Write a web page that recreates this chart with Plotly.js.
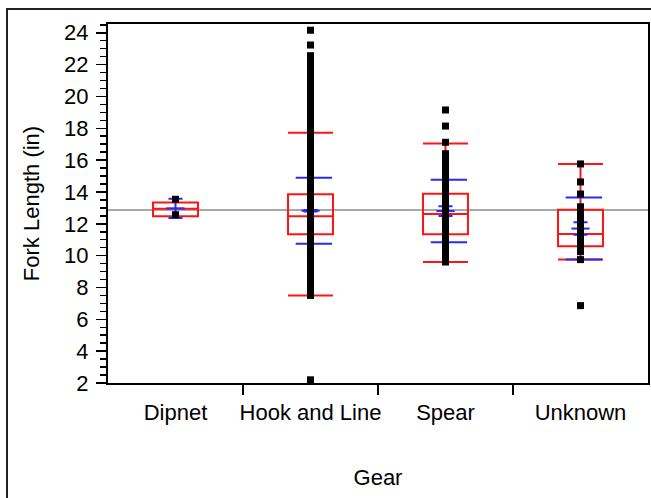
<!DOCTYPE html>
<html><head><meta charset="utf-8">
<script src="https://cdn.plot.ly/plotly-3.0.1.min.js"></script>
<style>
html,body{margin:0;padding:0;background:#fff;}
#wrap{position:relative;width:651px;height:498px;overflow:hidden;}
#chart{width:651px;height:498px;}
#frame{position:absolute;left:6px;top:8px;width:700px;height:600px;border:2px solid #222;pointer-events:none;}
</style></head><body>
<div id="wrap"><div id="chart"></div><div id="frame"></div></div>
<script>
// ---- data ----
const categories = ['Dipnet', 'Hook and Line', 'Spear', 'Unknown'];
const q1Values = [12.47, 11.34, 11.34, 10.59];
const medianValues = [12.95, 12.47, 12.62, 11.36];
const q3Values = [13.33, 13.85, 13.89, 12.89];
const lowerWhisker = [12.47, 7.5, 9.6, 9.75];
const upperWhisker = [13.33, 17.72, 17.05, 15.76];
const meanValues = [12.97, 12.82, 12.80, 11.70];
const stdErrValues = [0.60, 0.05, 0.31, 0.39];
const stdDevValues = [null, 2.08, 1.96, 1.95];
const grandMean = 12.87;

const dipnetLengths = [13.54, 12.57];
const hookLineLengths = [24.16, 23.23, 22.56, 22.3, 22.1, 21.8, 21.6, 21.3, 21.1, 20.8, 20.6, 20.3, 20.1,
  19.8, 19.6, 19.3, 19.1, 18.8, 18.6, 18.3, 18.1, 17.8, 17.6, 17.3, 17.1, 16.8, 16.6, 16.3, 16.1,
  15.8, 15.6, 15.3, 15.1, 14.8, 14.6, 14.3, 14.1, 13.8, 13.6, 13.3, 13.1, 12.8, 12.6, 12.3, 12.1,
  11.8, 11.6, 11.3, 11.1, 10.8, 10.6, 10.3, 10.1, 9.8, 9.6, 9.3, 9.1, 8.8, 8.6, 8.3, 8.1, 7.8, 7.5, 2.2];
const spearLengths = [19.15, 18.14, 17.12, 16.4, 16.2, 15.85, 15.65, 15.25, 15.0, 14.7, 14.4, 14.1,
  13.8, 13.5, 13.2, 12.9, 12.6, 12.3, 12.0, 11.7, 11.4, 11.1, 10.8, 10.5, 10.2, 9.9, 9.6];
const unknownLengths = [15.76, 14.63, 13.87, 13.07, 12.8, 12.5, 12.2, 11.9, 11.6, 11.3, 11.0, 10.7,
  10.5, 10.25, 9.75, 6.86];
const groupLengths = [dipnetLengths, hookLineLengths, spearLengths, unknownLengths];

// ---- styles ----
const RED = 'rgb(255,20,20)';
const BLUE = 'rgb(40,40,255)';
const SD_OFFSET = 0.025;

const idx = categories.map((c, i) => i);

const boxTrace = {
  type: 'box', x: idx, q1: q1Values, median: medianValues, q3: q3Values,
  lowerfence: lowerWhisker, upperfence: upperWhisker,
  width: 0.333, whiskerwidth: 1, boxpoints: false,
  line: {color: RED, width: 2}, fillcolor: 'rgba(0,0,0,0)', hoverinfo: 'skip'
};

const sdX = [], sdY = [];
stdDevValues.forEach((sd, i) => {
  if (sd === null) return;
  sdX.push(i + SD_OFFSET, i + SD_OFFSET);
  sdY.push(meanValues[i] + sd, meanValues[i] - sd);
});
const sdTrace = {
  type: 'scatter', mode: 'markers', x: sdX, y: sdY, hoverinfo: 'skip',
  marker: {symbol: 'line-ew', size: 26, color: BLUE, line: {color: BLUE, width: 2}}
};

const meanTrace = {
  type: 'scatter', mode: 'markers', x: idx, y: meanValues, hoverinfo: 'skip',
  marker: {symbol: 'line-ew', size: 13, color: BLUE, line: {color: BLUE, width: 2}},
  error_y: {type: 'data', array: stdErrValues, visible: true, color: BLUE, thickness: 2, width: 7}
};

const ptX = [], ptY = [];
groupLengths.forEach((arr, i) => arr.forEach(v => { ptX.push(i); ptY.push(v); }));
const pointTrace = {
  type: 'scatter', mode: 'markers', x: ptX, y: ptY, hoverinfo: 'skip',
  marker: {symbol: 'square', size: 7, color: 'black'}
};

const layout = {
  width: 651, height: 498,
  margin: {l: 108, r: 3, t: 24, b: 115},
  paper_bgcolor: 'white', plot_bgcolor: 'white',
  showlegend: false,
  font: {family: 'Liberation Sans, Arial, sans-serif', size: 22, color: 'black'},
  xaxis: {
    range: [-0.5, 3.5], tickmode: 'array', tickvals: idx, ticktext: categories,
    ticks: '', showline: true, mirror: true, linecolor: 'black', linewidth: 2,
    showgrid: false, zeroline: false, ticklabelstandoff: 9,
    minor: {tickmode: 'array', tickvals: [0.5, 1.5, 2.5], ticks: 'outside', ticklen: 10, tickwidth: 2, tickcolor: 'black', showgrid: false},
    title: {text: 'Gear', font: {size: 22}, standoff: 45}
  },
  yaxis: {
    range: [2, 24.55], tick0: 0, dtick: 2, ticks: 'outside', ticklen: 10, tickwidth: 1.5, tickcolor: 'black',
    showline: true, mirror: true, linecolor: 'black', linewidth: 2,
    showgrid: false, zeroline: false, ticklabelstandoff: 3,
    minor: {dtick: 0.5, ticks: 'outside', ticklen: 6, tickwidth: 1.5, tickcolor: 'black', showgrid: false},
    title: {text: 'Fork Length (in)', font: {size: 22}, standoff: 18}
  },
  shapes: [{type: 'line', xref: 'paper', x0: 0, x1: 1, yref: 'y', y0: grandMean, y1: grandMean,
    layer: 'below', line: {color: '#a8a8a8', width: 2}}]
};

Plotly.newPlot('chart', [boxTrace, sdTrace, meanTrace, pointTrace], layout, {displayModeBar: false, staticPlot: true});
</script></body></html>
